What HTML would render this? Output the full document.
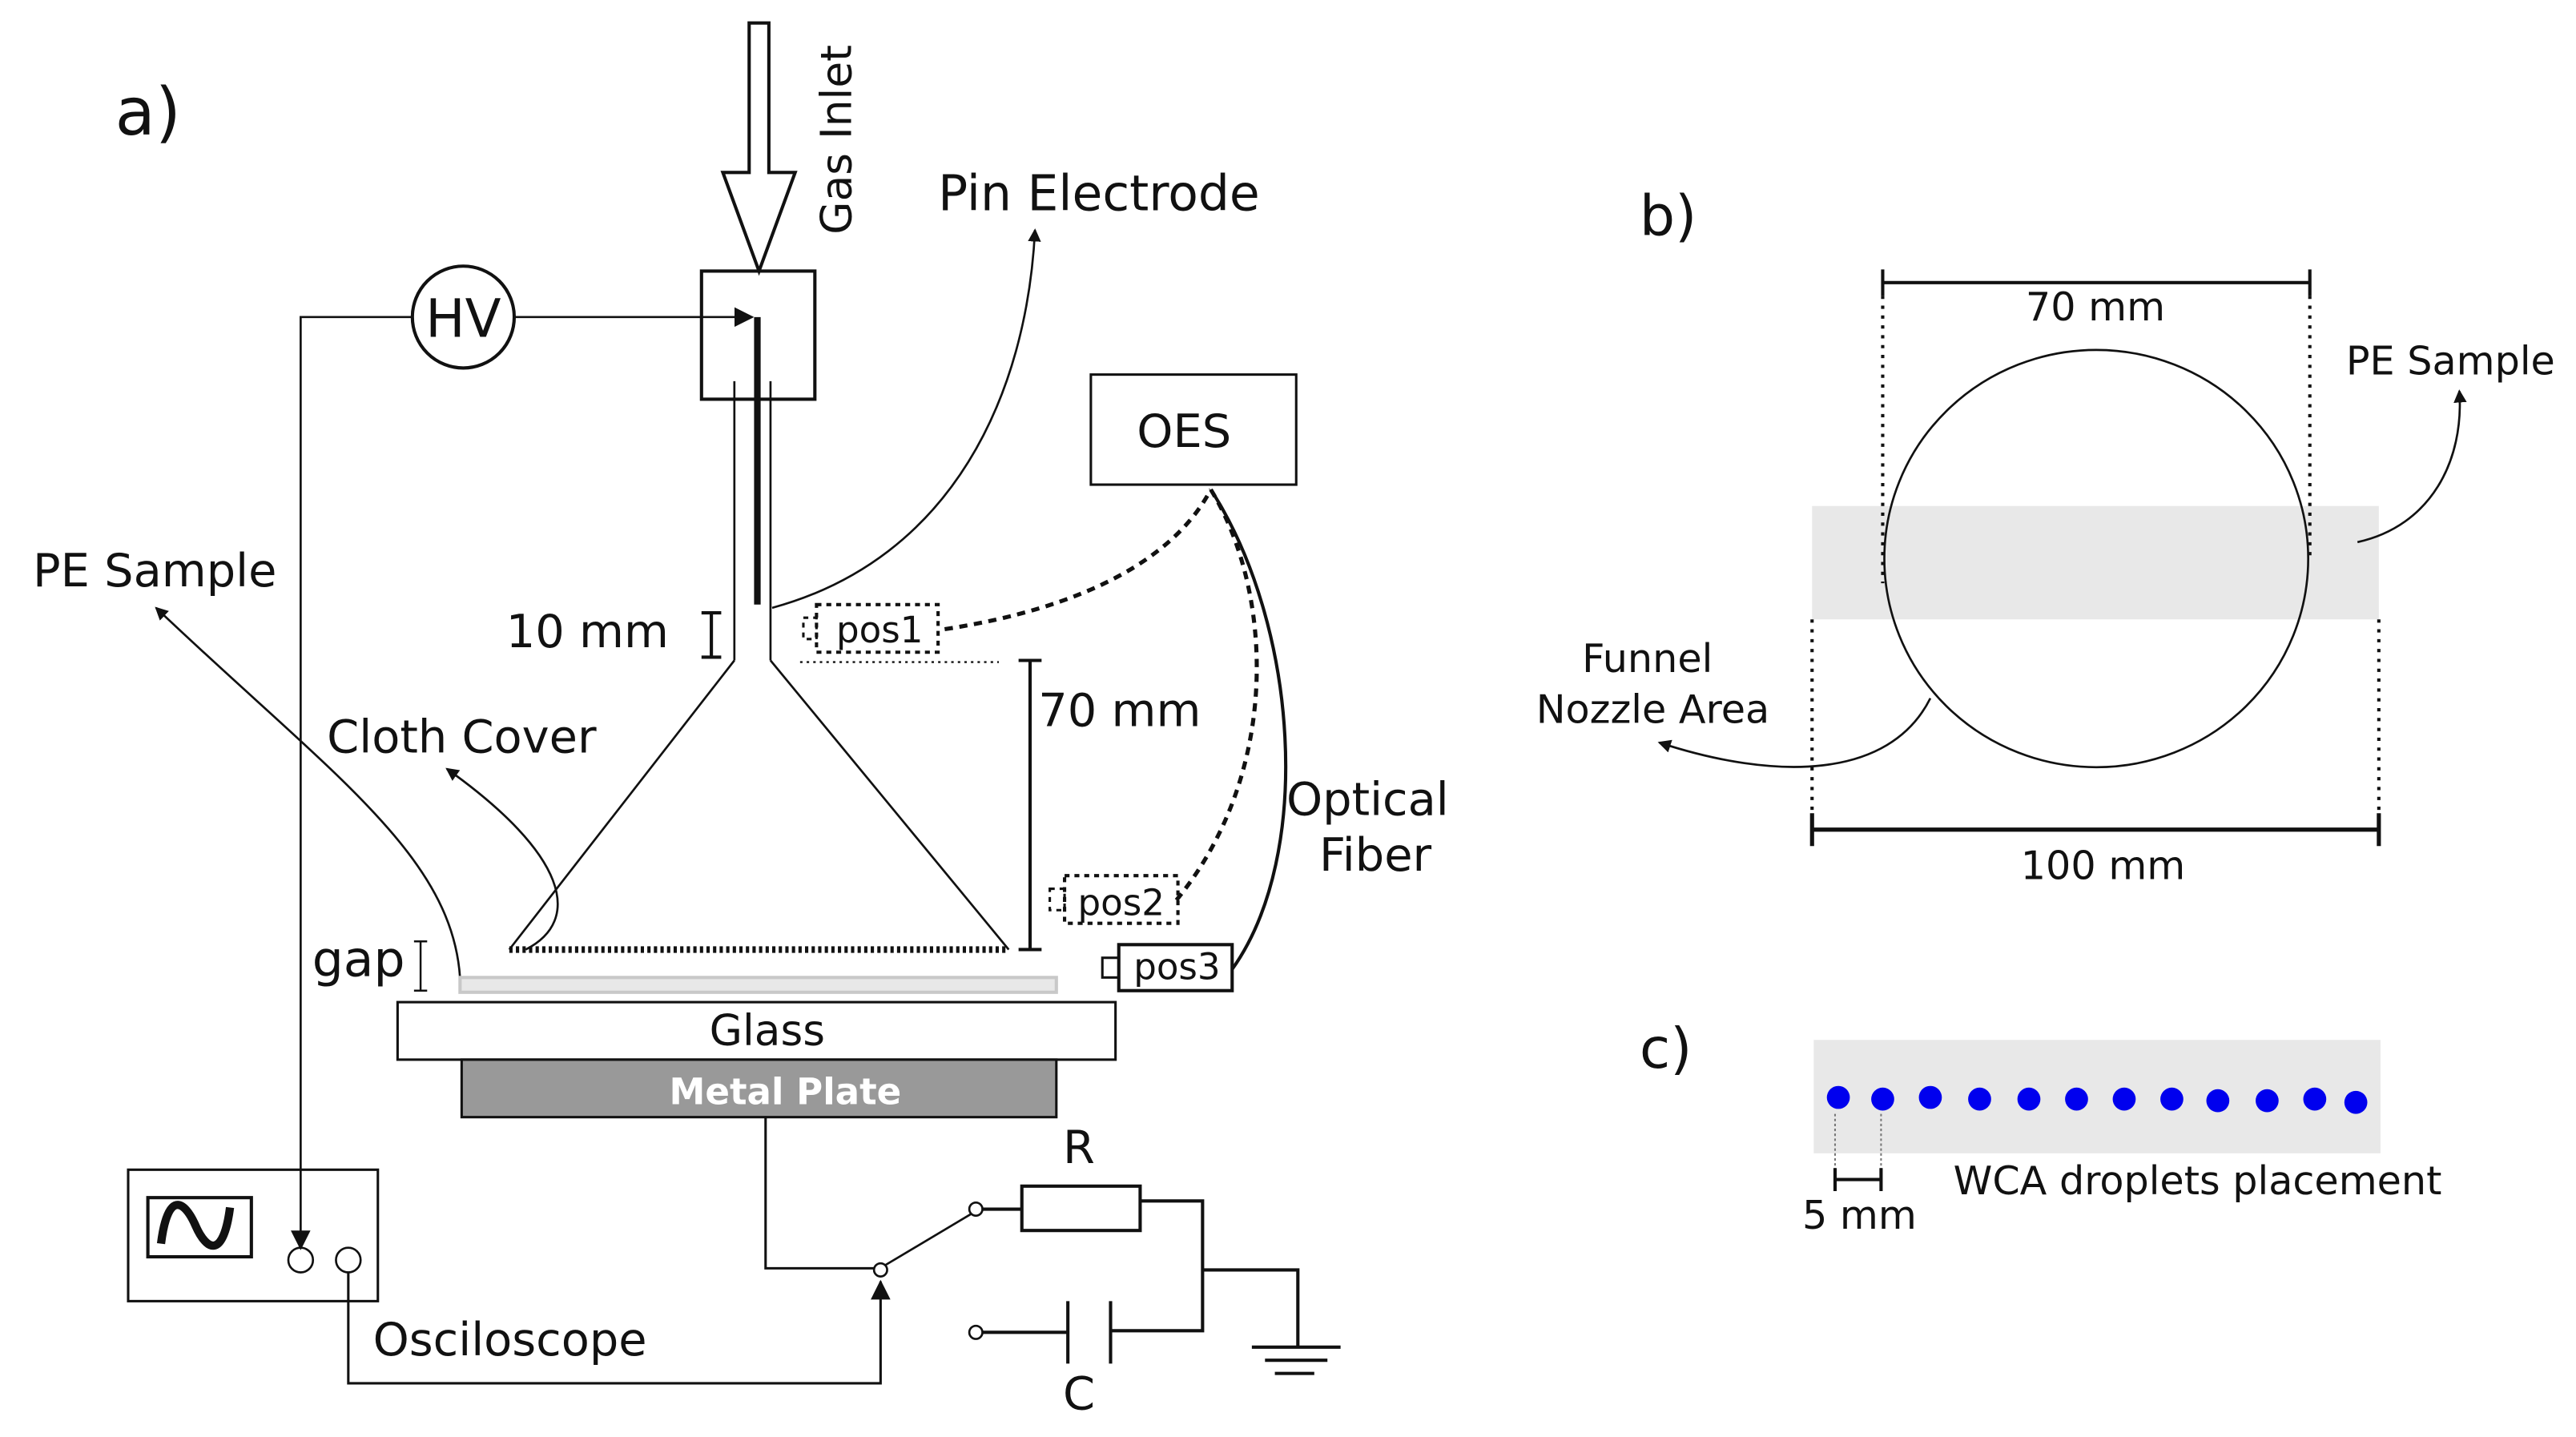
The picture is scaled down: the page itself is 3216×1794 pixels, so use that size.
<!DOCTYPE html>
<html><head><meta charset="utf-8"><style>html,body{margin:0;padding:0;background:#fff}svg{display:block}text{font-family:"DejaVu Sans","Liberation Sans",sans-serif;fill:#111}</style></head>
<body>
<svg width="3216" height="1794" viewBox="0 0 1568 874.7" xmlns="http://www.w3.org/2000/svg">
<defs><marker id="ar" markerWidth="8" markerHeight="8" refX="7" refY="4" orient="auto" markerUnits="userSpaceOnUse"><path d="M0,0 L8,4 L0,8 z" fill="#111"/></marker>
<marker id="ar2" markerWidth="12" markerHeight="12" refX="11" refY="6" orient="auto" markerUnits="userSpaceOnUse"><path d="M0,0 L12,6 L0,12 z" fill="#111"/></marker></defs>
<g fill="none" stroke="#111" stroke-width="1.3">
<text x="70" y="82" font-size="40" stroke="none">a)</text>
<path d="M456,14 H468 V105 H484 L462,165 L440,105 H456 Z" fill="#fff" stroke-width="2"/>
<text transform="translate(518,85) rotate(-90)" text-anchor="middle" font-size="26" stroke="none">Gas Inlet</text>
<rect x="427" y="165" width="69" height="78" stroke-width="2"/>
<path d="M447,232 V402 M469,232 V402"/>
<path d="M461,193 V368" stroke-width="4"/>
<circle cx="282" cy="193" r="31" stroke-width="2"/>
<text x="282" y="205" text-anchor="middle" font-size="32" stroke="none">HV</text>
<path d="M251,193 H183 V760" marker-end="url(#ar2)"/>
<path d="M313,193 H458" marker-end="url(#ar2)"/>
<text x="571" y="128" font-size="30" stroke="none">Pin Electrode</text>
<path d="M470,370 C580,340 625,240 630,140" marker-end="url(#ar)"/>
<path d="M447,402 L310,578 M469,402 L614,578"/>
<path d="M310,578 H614" stroke-width="4" stroke-dasharray="2,2"/>
<text x="308" y="394" font-size="28" stroke="none">10 mm</text>
<path d="M433,373 V400 M427,373 H439 M427,400 H439" stroke-width="2"/>
<rect x="497" y="368" width="74" height="29" stroke-dasharray="3,3" stroke-width="2"/>
<rect x="489" y="376" width="8" height="13" stroke-dasharray="3,3" stroke-width="1.5"/>
<text x="509" y="391" font-size="22" stroke="none">pos1</text>
<path d="M487,403 H608" stroke-dasharray="1.5,2.5" stroke-width="1.2"/>
<path d="M627,402 V578 M620,402 H634 M620,578 H634" stroke-width="2"/>
<text x="632" y="442" font-size="28" stroke="none">70 mm</text>
<rect x="664" y="228" width="125" height="67" stroke-width="1.5"/>
<text x="692" y="272" font-size="28" stroke="none">OES</text>
<path d="M575,383 C660,370 715,340 737,298" stroke-dasharray="5,4" stroke-width="2.5"/>
<path d="M737,298 C775,360 780,470 716,548" stroke-dasharray="5,4" stroke-width="2.5"/>
<path d="M737,298 C790,380 800,520 750,590" stroke-width="2"/>
<text x="783" y="496" font-size="28" stroke="none">Optical</text>
<text x="803" y="530" font-size="28" stroke="none">Fiber</text>
<rect x="648" y="533" width="69" height="29" stroke-dasharray="3,3" stroke-width="2"/>
<rect x="639" y="541" width="9" height="13" stroke-dasharray="3,3" stroke-width="1.5"/>
<text x="656" y="557" font-size="22" stroke="none">pos2</text>
<rect x="681" y="575" width="69" height="28" stroke-width="2"/>
<rect x="671" y="583" width="10" height="12" stroke-width="1.5"/>
<text x="690" y="596" font-size="22" stroke="none">pos3</text>
<text x="20" y="357" font-size="28" stroke="none">PE Sample</text>
<path d="M280,595 C275,520 200,470 95,370" marker-end="url(#ar)"/>
<text x="199" y="458" font-size="28" stroke="none">Cloth Cover</text>
<path d="M320,578 C355,560 345,520 272,468" marker-end="url(#ar)"/>
<text x="190" y="594" font-size="30" stroke="none">gap</text>
<path d="M256,573 V603 M252,573 H260 M252,603 H260" stroke-width="1.2"/>
<rect x="280" y="595" width="363" height="9" fill="#e8e8e8" stroke="#c8c8c8" stroke-width="2"/>
<rect x="242" y="610" width="437" height="35" fill="#fff" stroke-width="1.5"/>
<text x="467" y="636" text-anchor="middle" font-size="26" stroke="none">Glass</text>
<rect x="281" y="645" width="362" height="35" fill="#999" stroke-width="1.5"/>
<text x="478" y="672" text-anchor="middle" font-size="22" font-weight="bold" stroke="none" style="fill:#fff">Metal Plate</text>
<path d="M466,680 V772 H532" stroke-width="1.5"/>
<circle cx="536" cy="773" r="4" fill="#fff"/>
<path d="M539,770 L591,739"/>
<circle cx="594" cy="736" r="4" fill="#fff"/>
<path d="M598,736 H622 M694,731 H732 V810 H676 M732,773 H790 V820" stroke-width="2"/>
<rect x="622" y="722" width="72" height="27" stroke-width="2"/>
<path d="M650,792 V830 M676,792 V830 M598,811 H650" stroke-width="2"/>
<circle cx="594" cy="811" r="4" fill="#fff"/>
<path d="M762,820 H816 M770,828 H808 M776,836 H800" stroke-width="2"/>
<text x="647" y="708" font-size="28" stroke="none">R</text>
<text x="647" y="858" font-size="28" stroke="none">C</text>
<rect x="78" y="712" width="152" height="80" stroke-width="1.5"/>
<rect x="90" y="729" width="63" height="36" stroke-width="2"/>
<path d="M98,757 C102,725 112,730 119,746 C126,762 136,766 140,735" stroke-width="5"/>
<circle cx="183" cy="767" r="7.5"/>
<circle cx="212" cy="767" r="7.5"/>
<path d="M212,775 V842 H536 V780" stroke-width="1.5" marker-end="url(#ar2)"/>
<text x="227" y="825" font-size="28" stroke="none">Osciloscope</text>

<text x="998" y="143" font-size="34" stroke="none">b)</text>
<rect x="1103" y="308" width="345" height="69" fill="#e8e8e8" stroke="none"/>
<ellipse cx="1276" cy="340" rx="129" ry="127"/>
<path d="M1146,172 H1406 M1146,164 V180 M1406,164 V180" stroke-width="2"/>
<text x="1233" y="195" font-size="24" stroke="none">70 mm</text>
<path d="M1146,180 V355 M1406,180 V342" stroke-width="2" stroke-dasharray="2,4"/>
<path d="M1103,505 H1448 M1103,495 V515 M1448,495 V515" stroke-width="2.5"/>
<path d="M1103,377 V495 M1448,377 V495" stroke-width="2" stroke-dasharray="2,4"/>
<text x="1230" y="535" font-size="24" stroke="none">100 mm</text>
<text x="1428" y="228" font-size="24" stroke="none">PE Sample</text>
<path d="M1435,330 C1480,320 1500,280 1497,238" marker-end="url(#ar)"/>
<text x="963" y="409" font-size="24" stroke="none">Funnel</text>
<text x="935" y="440" font-size="24" stroke="none">Nozzle Area</text>
<path d="M1175,425 C1150,475 1080,475 1010,452" marker-end="url(#ar)"/>

<text x="998" y="650" font-size="34" stroke="none">c)</text>
<rect x="1104" y="633" width="345" height="69" fill="#e8e8e8" stroke="none"/>
<g fill="#0000ee" stroke="none">
<circle cx="1119" cy="668" r="7"/><circle cx="1146" cy="669" r="7"/><circle cx="1175" cy="668" r="7"/><circle cx="1205" cy="669" r="7"/><circle cx="1235" cy="669" r="7"/><circle cx="1264" cy="669" r="7"/><circle cx="1293" cy="669" r="7"/><circle cx="1322" cy="669" r="7"/><circle cx="1350" cy="670" r="7"/><circle cx="1380" cy="670" r="7"/><circle cx="1409" cy="669" r="7"/><circle cx="1434" cy="671" r="7"/></g>
<path d="M1117,678 V718 M1145,678 V718" stroke="#777" stroke-width="1" stroke-dasharray="1.5,1.5"/>
<path d="M1117,718 H1145 M1117,711 V725 M1145,711 V725" stroke-width="2"/>
<text x="1097" y="748" font-size="24" stroke="none">5 mm</text>
<text x="1189" y="727" font-size="24" stroke="none">WCA droplets placement</text>
</g>
</svg>
</body></html>
